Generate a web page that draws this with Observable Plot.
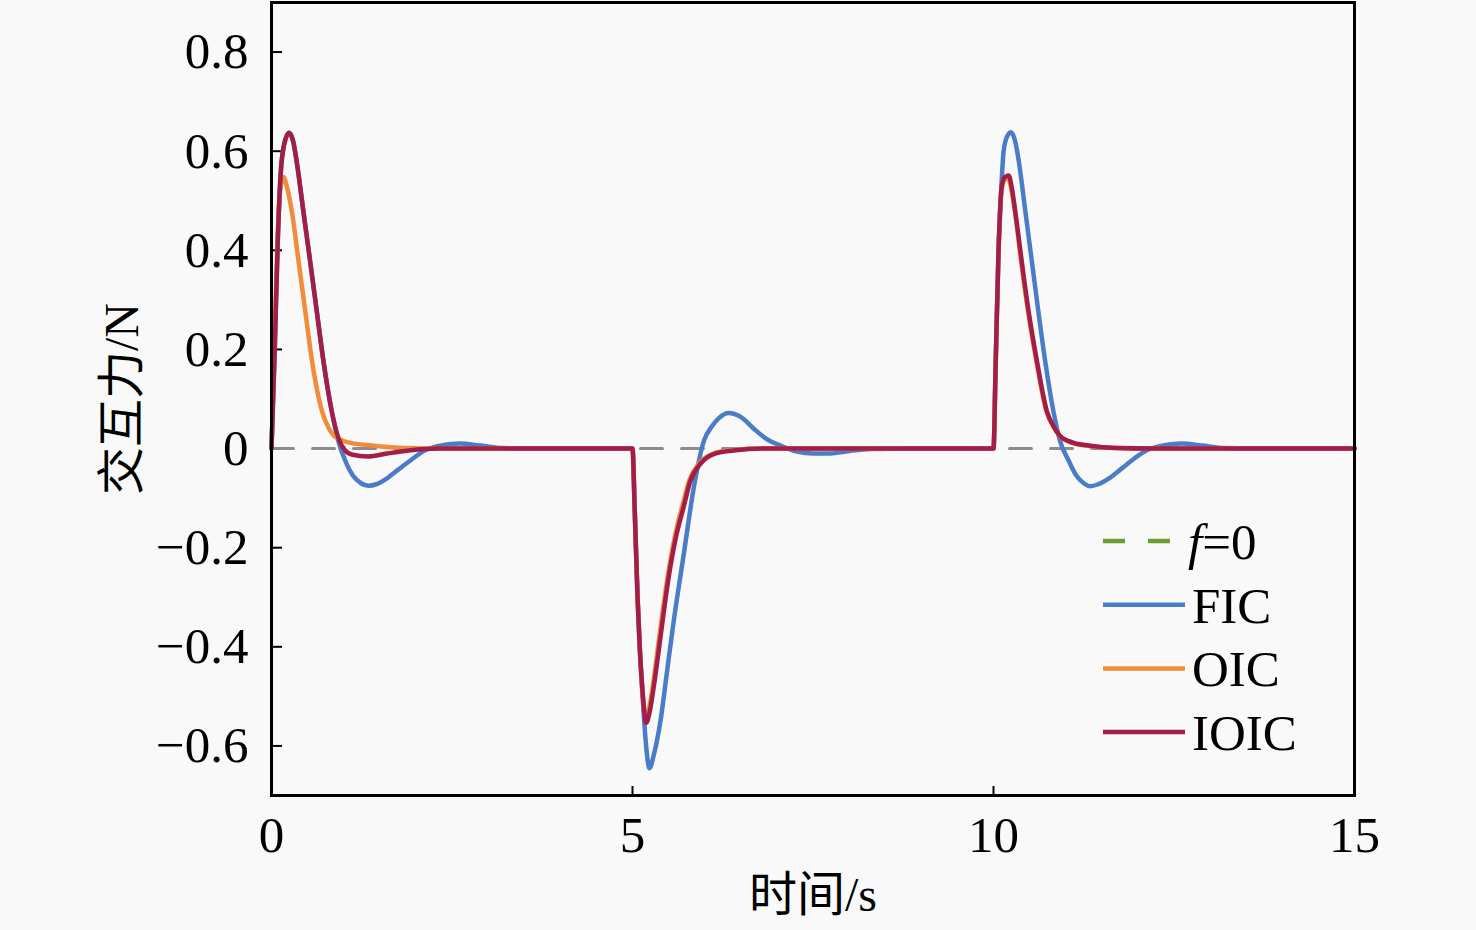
<!DOCTYPE html>
<html>
<head>
<meta charset="utf-8">
<script src="https://cdn.jsdelivr.net/npm/d3@7"></script>
<script src="https://cdn.jsdelivr.net/npm/@observablehq/plot@0.6"></script>
<style>
  html, body { margin: 0; padding: 0; background: #f9f9f9; }
  #chart svg { display: block; }
</style>
</head>
<body>
<div id="chart"></div>
<script>
// ---- tick values ----
const xTicks = [0, 5, 10, 15];
const yTicks = [-0.6, -0.4, -0.2, 0, 0.2, 0.4, 0.6, 0.8];
const xLabel = "时间/s";
const yLabel = "交互力/N";

// ---- reference line f = 0 ----
const zeroT = [0, 15];
const zeroV = [0, 0];

// ---- FIC ----
const ficT = [0, 0.045, 0.085, 0.125, 0.17, 0.245, 0.3, 0.35, 0.443, 0.536, 0.628, 0.72, 0.835, 0.92, 1.02, 1.13, 1.24, 1.34, 1.45, 1.6, 1.76, 1.95, 2.12, 2.3, 2.6, 2.9, 3.2, 3.6, 5.0,
  5.03, 5.07, 5.1, 5.14, 5.18, 5.235, 5.3, 5.388, 5.48, 5.572, 5.71, 5.85, 5.99, 6.1, 6.2, 6.33, 6.5, 6.68, 6.85, 7.05, 7.28, 7.5, 7.74, 8.0, 8.3, 8.8, 10.0,
  10.03, 10.07, 10.1, 10.14, 10.19, 10.245, 10.3, 10.35, 10.44, 10.53, 10.62, 10.716, 10.83, 10.92, 11.04, 11.15, 11.25, 11.34, 11.45, 11.6, 11.76, 11.95, 12.13, 12.3, 12.6, 12.9, 13.2, 13.6, 15.0];
const ficV = [0, 0.2, 0.41, 0.55, 0.61, 0.637, 0.62, 0.578, 0.477, 0.377, 0.276, 0.176, 0.075, 0.018, -0.024, -0.055, -0.07, -0.075, -0.072, -0.06, -0.042, -0.021, -0.004, 0.005, 0.01, 0.006, 0.001, 0, 0,
  -0.12, -0.3, -0.4, -0.5, -0.585, -0.645, -0.615, -0.549, -0.448, -0.347, -0.213, -0.078, 0.016, 0.045, 0.062, 0.072, 0.064, 0.04, 0.02, 0.006, -0.006, -0.01, -0.01, -0.005, -0.001, 0, 0,
  0.17, 0.4, 0.5, 0.6, 0.63, 0.638, 0.62, 0.58, 0.48, 0.379, 0.278, 0.176, 0.075, 0.016, -0.024, -0.055, -0.07, -0.076, -0.072, -0.06, -0.042, -0.02, -0.003, 0.005, 0.01, 0.006, 0.001, 0, 0];

// ---- OIC ----
const oicT = [0, 0.04, 0.08, 0.12, 0.166, 0.21, 0.28, 0.374, 0.467, 0.56, 0.7, 0.79, 0.88, 1.11, 1.34, 1.6, 1.9, 2.2, 5.0,
  5.03, 5.07, 5.1, 5.134, 5.185, 5.235, 5.29, 5.38, 5.48, 5.59, 5.7, 5.79, 5.93, 6.12, 6.4, 6.8, 10.0,
  10.03, 10.07, 10.115, 10.16, 10.205, 10.25, 10.3, 10.385, 10.48, 10.595, 10.735, 10.83, 10.92, 11.1, 11.32, 11.7, 12.2, 15.0];
const oicV = [0, 0.2, 0.41, 0.52, 0.548, 0.53, 0.48, 0.379, 0.278, 0.178, 0.075, 0.042, 0.024, 0.011, 0.007, 0.003, 0.001, 0, 0,
  -0.12, -0.3, -0.4, -0.48, -0.543, -0.52, -0.47, -0.37, -0.265, -0.175, -0.11, -0.063, -0.029, -0.01, -0.003, 0, 0,
  0.17, 0.4, 0.525, 0.543, 0.545, 0.52, 0.475, 0.375, 0.275, 0.175, 0.074, 0.044, 0.025, 0.011, 0.005, 0.001, 0, 0];

// ---- IOIC ----
const ioicT = [0, 0.045, 0.085, 0.125, 0.17, 0.245, 0.3, 0.35, 0.443, 0.536, 0.628, 0.72, 0.835, 0.93, 1.02, 1.11, 1.34, 1.6, 1.9, 2.3, 5.0,
  5.03, 5.07, 5.1, 5.134, 5.19, 5.24, 5.295, 5.388, 5.49, 5.6, 5.71, 5.8, 5.94, 6.126, 6.4, 6.8, 10.0,
  10.03, 10.07, 10.115, 10.16, 10.21, 10.255, 10.3, 10.39, 10.485, 10.6, 10.74, 10.83, 10.92, 11.1, 11.32, 11.7, 12.2, 15.0];
const ioicV = [0, 0.2, 0.41, 0.55, 0.61, 0.637, 0.62, 0.578, 0.477, 0.377, 0.276, 0.176, 0.075, 0.02, -0.004, -0.012, -0.016, -0.01, -0.004, 0, 0,
  -0.12, -0.3, -0.4, -0.48, -0.553, -0.53, -0.48, -0.38, -0.27, -0.18, -0.117, -0.066, -0.031, -0.011, -0.004, 0, 0,
  0.17, 0.4, 0.53, 0.548, 0.551, 0.525, 0.48, 0.379, 0.278, 0.178, 0.075, 0.045, 0.026, 0.012, 0.006, 0.001, 0, 0];

// ---- series styling / legend ----
const seriesNames = ["f=0", "FIC", "OIC", "IOIC"];
const colors = {fic: "#4a7cc8", oic: "#f08c3c", ioic: "#a21e48", zero: "#8c8c8c", zeroLegend: "#6e9e32"};

const rows = (T, V) => T.map((t, i) => ({t, v: V[i]}));
const zero = rows(zeroT, zeroV);
const fic = rows(ficT, ficV);
const oic = rows(oicT, oicV);
const ioic = rows(ioicT, ioicV);

const W = 1476, H = 930;
const mL = 271, mR = 122, mT = 2, mB = 135;
const plotW = W - mL - mR, plotH = H - mT - mB;
const FS = 51;

const fmtY = d => d === 0 ? "0" : (d < 0 ? "\u2212" : "") + Math.abs(d).toFixed(1);

const chart = Plot.plot({
  width: W, height: H,
  marginLeft: mL, marginRight: mR, marginTop: mT, marginBottom: mB,
  style: {background: "#f9f9f9", fontFamily: "'Liberation Serif', 'Noto Sans CJK SC', serif", fontSize: FS + "px", color: "#000", overflow: "visible"},
  x: {domain: [0, 15]},
  y: {domain: [-0.7, 0.9]},
  marks: [
    Plot.axisX(xTicks, {tickSize: 0, tickPadding: 20, label: null, fontSize: FS}),
    Plot.axisY(yTicks, {tickSize: 0, tickPadding: 23, label: null, tickFormat: fmtY, fontSize: FS}),
    Plot.tickX(xTicks, {x: d => d, insetTop: plotH - 9, stroke: "#000", strokeWidth: 2}),
    Plot.tickY(yTicks, {y: d => d, insetRight: plotW - 11, stroke: "#000", strokeWidth: 2}),
    Plot.line(zero, {x: "t", y: "v", stroke: colors.zero, strokeWidth: 3, strokeDasharray: "22,19"}),
    Plot.line(fic, {x: "t", y: "v", stroke: colors.fic, strokeWidth: 4.5, curve: "monotone-x"}),
    Plot.line(oic, {x: "t", y: "v", stroke: colors.oic, strokeWidth: 4.5, curve: "monotone-x"}),
    Plot.line(ioic, {x: "t", y: "v", stroke: colors.ioic, strokeWidth: 4.5, curve: "monotone-x"}),
    Plot.frame({stroke: "#000", strokeWidth: 3}),
    Plot.text([xLabel], {text: d => d, frameAnchor: "bottom", dy: 100, lineAnchor: "middle", textAnchor: "middle", fontSize: 48, fill: "#000"}),
    Plot.text([yLabel], {text: d => d, frameAnchor: "left", dx: -149, rotate: -90, lineAnchor: "middle", textAnchor: "middle", fontSize: 48, fill: "#000"})
  ]
});

// ---- legend (inside plot, lower right) ----
const svg = d3.select(chart);
const lg = svg.append("g")
  .attr("font-family", "'Liberation Serif', serif")
  .attr("font-size", FS)
  .attr("text-anchor", "start");
const legendItems = [
  {name: seriesNames[0], color: colors.zeroLegend, dash: "22,23", x2: 1170},
  {name: seriesNames[1], color: colors.fic, dash: null, x2: 1185},
  {name: seriesNames[2], color: colors.oic, dash: null, x2: 1185},
  {name: seriesNames[3], color: colors.ioic, dash: null, x2: 1185}
];
legendItems.forEach((it, i) => {
  const y = 541 + i * 63.7;
  lg.append("line").attr("x1", 1103).attr("x2", it.x2).attr("y1", y).attr("y2", y)
    .attr("stroke", it.color).attr("stroke-width", 4.5)
    .attr("stroke-dasharray", it.dash);
  const tx = lg.append("text").attr("x", i === 0 ? 1188 : 1192).attr("y", y + 18)
    .attr("fill", "#000").attr("text-anchor", "start");
  if (i === 0) {
    tx.append("tspan").attr("font-style", "italic").text("f");
    tx.append("tspan").text("=0");
  } else {
    tx.text(it.name);
  }
});

document.getElementById("chart").appendChild(chart);
</script>
</body>
</html>
